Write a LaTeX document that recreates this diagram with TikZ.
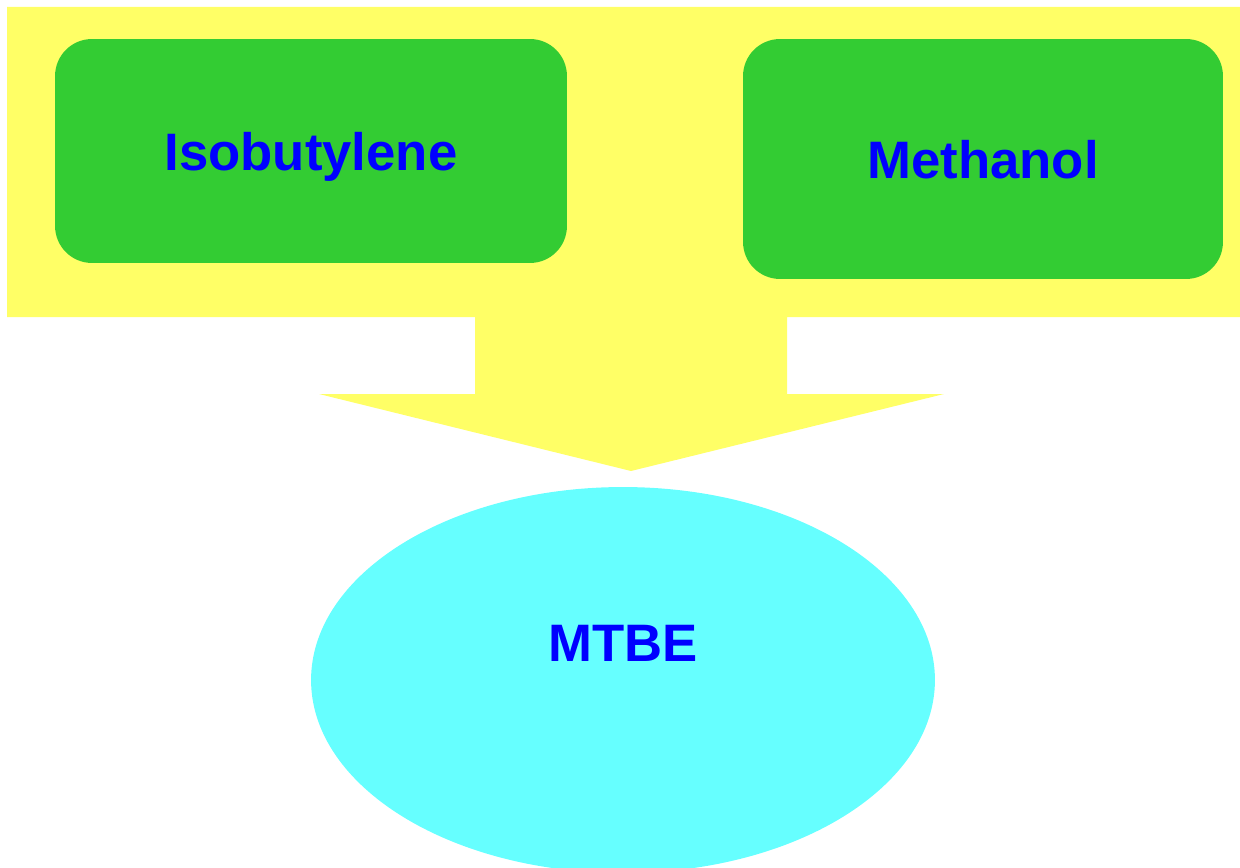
\documentclass[tikz,border=0pt]{standalone}
\usepackage{fontspec}
\setmainfont{Liberation Sans}
\usetikzlibrary{shapes.geometric}
\definecolor{panelyellow}{HTML}{FFFF66}
\definecolor{boxgreen}{HTML}{33CC33}
\definecolor{productcyan}{HTML}{66FFFF}
\definecolor{labelblue}{HTML}{0000FF}
\tikzstyle{reactant}=[rectangle,rounded corners=0.74cm,fill=boxgreen,inner sep=0pt,text depth=0pt,font=\fontsize{30}{36}\selectfont\bfseries,text=labelblue]
\tikzstyle{product}=[ellipse,fill=productcyan,inner sep=0pt,minimum width=12.48cm,minimum height=7.72cm]
\tikzstyle{caption}=[font=\fontsize{30}{36}\selectfont\bfseries,text=labelblue,inner sep=0pt]

\begin{document}
\begin{tikzpicture}[x=0.02cm,y=-0.02cm]
\useasboundingbox (0,0) rectangle (1240,868);
% yellow panel with the block arrow
\fill[panelyellow] (7,7) -- (1240,7) -- (1240,317) -- (787,317) -- (787,394) -- (944,394)
  -- (631,471) -- (319,394) -- (475,394) -- (475,317) -- (7,317) -- cycle;
\node[reactant, minimum width=10.24cm, minimum height=4.48cm] at (311, 151) (iso) {Isobutylene};
\node[reactant, minimum width=9.6cm, minimum height=4.8cm] at (983, 159) (meth) {Methanol};
\node[product] at (623, 680) (mtbe) {};
\node[caption] at (623, 643) (mtbetext) {MTBE};
\end{tikzpicture}
\end{document}
